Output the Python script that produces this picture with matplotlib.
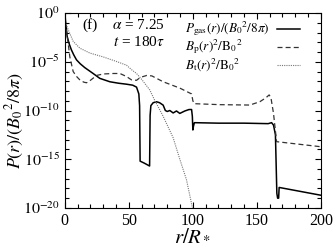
import numpy as np
from matplotlib import pyplot as plt
from matplotlib.ticker import FuncFormatter, NullFormatter

plt.rcParams['font.family'] = ['Liberation Serif', 'DejaVu Serif']
plt.rcParams['mathtext.fontset'] = 'stix'

# log10 values
r_gas = [0, 0.5, 1.8, 3.5, 5.2, 7, 9.1, 12, 15.6, 22.1, 27.3, 35.2, 42, 48.2, 53, 56,
         57.8, 58.4, 58.8, 62, 66.2, 66.6, 67.2, 69, 71.6, 74, 76.8, 78.5, 80, 82,
         84.6, 87.2, 89.8, 93.7, 97, 99, 99.6, 100, 100.5, 101.2, 120, 140, 158.8,
         161.5, 163, 164.5, 165.6, 166.2, 167, 167.4, 200]
p_gas = [0, -0.8, -2.4, -3.2, -3.8, -4.3, -4.8, -5.2, -5.6, -6.2, -6.7, -7.05, -7.2, -7.3, -7.4, -7.6,
         -8.3, -9.5, -15.2, -15.4, -15.7, -10.5, -9.5, -9.2, -9.1, -9.2, -9.45, -10.0, -10.1, -10.0,
         -10.25, -10.05, -10.3, -10.05, -9.9, -9.9, -10.6, -12.0, -11.6, -11.25, -11.3, -11.3, -11.35,
         -11.25, -11.5, -12.5, -18.5, -19.0, -19.0, -17.9, -18.7]

r_bp = [0, 0.8, 2.6, 3.9, 6.5, 9.1, 12, 15, 17, 19.5, 24.8, 30, 38, 43, 48, 52, 56, 59, 64, 68,
        76.8, 89.8, 99, 100, 101, 121, 144.5, 152.3, 157, 159.6, 161, 163, 165.4, 200]
p_bp = [0, -1.4, -3.1, -4.5, -6.0, -6.5, -6.9, -7.1, -7.15, -6.95, -6.4, -6.25, -6.2, -6.2, -6.5,
        -6.85, -6.9, -6.6, -6.4, -6.45, -7.05, -7.7, -8.3, -9.0, -9.3, -9.4, -9.44, -9.1, -8.7,
        -8.4, -8.7, -10.3, -13.2, -13.72]

r_bt = [0, 0.8, 2, 3.9, 6.5, 11.7, 19.5, 30, 40, 48.2, 52, 56, 60, 66.4, 70, 76.8, 84.6, 89.8, 95, 100]
p_bt = [0, -0.9, -1.5, -2.1, -2.9, -3.6, -4.1, -4.5, -4.95, -5.35, -5.8, -6.2, -6.8, -7.9, -8.9,
        -10.6, -12.8, -15.0, -17.1, -20.2]

labels = [r'$P_{\rm gas}(r)/(B_0{}^2/8\pi)$',
          r'$B_{\rm p}(r)^2/{\rm B_0}^2$',
          r'$B_{\rm t}(r)^2/{\rm B_0}^2$']
styles = [dict(color="black", lw=1.1, ls="-"),
          dict(color="#333333", lw=0.9, ls=(0, (4, 2.5))),
          dict(color="#777777", lw=0.8, ls=(0, (1, 1)))]

fig = plt.figure(figsize=(3.36, 2.52), dpi=100)
ax = fig.add_subplot(111)
fig.subplots_adjust(left=0.193, right=0.955, bottom=0.175, top=0.948)

for (r, p), st in zip([(r_gas, p_gas), (r_bp, p_bp), (r_bt, p_bt)], styles):
    ax.semilogy(r, 10.0 ** np.array(p), **st)

ax.set_xlim(0, 200)
ax.set_ylim(1e-20, 1e0)
ax.set_xticks([0, 50, 100, 150, 200])
ax.set_xticks(np.arange(0, 201, 10), minor=True)
ax.set_yticks([10.0 ** k for k in range(-20, 1, 5)])
ax.set_yticks([10.0 ** k for k in range(-20, 1)], minor=True)
ax.yaxis.set_major_formatter(FuncFormatter(lambda v, p: r'$10^{%d}$' % round(np.log10(v))))
ax.yaxis.set_minor_formatter(NullFormatter())
ax.tick_params(which="both", direction="in", top=True, right=True, labelsize=11.5, width=0.8)
ax.tick_params(which="major", length=4)
ax.tick_params(which="minor", length=3)
for s in ax.spines.values():
    s.set_linewidth(0.8)

ax.set_xlabel(r'$r/R_*$', fontsize=15, labelpad=-1)
ax.set_ylabel(r'$P(r)/(B_0{}^2/8\pi)$', fontsize=13)
ax.yaxis.set_label_coords(-0.15, 0.45)

ax.text(0.098, 0.938, "(f)", transform=ax.transAxes, fontsize=11, ha="center", va="center")
ax.text(0.184, 0.938, r'$\alpha$ = 7.25', transform=ax.transAxes, fontsize=11, va="center")
ax.text(0.1875, 0.851, r'$t$ = 180$\tau$', transform=ax.transAxes, fontsize=11, va="center")

# legend: labels left aligned, samples on the right
for i, (lab, st) in enumerate(zip(labels, styles)):
    yy = 0.918 - 0.0915 * i
    ax.text(0.469, yy, lab, transform=ax.transAxes, fontsize=9.5, va="center")
    ax.plot([0.828, 0.918], [yy, yy], transform=ax.transAxes, **st)

fig.savefig("out.png", dpi=100)
